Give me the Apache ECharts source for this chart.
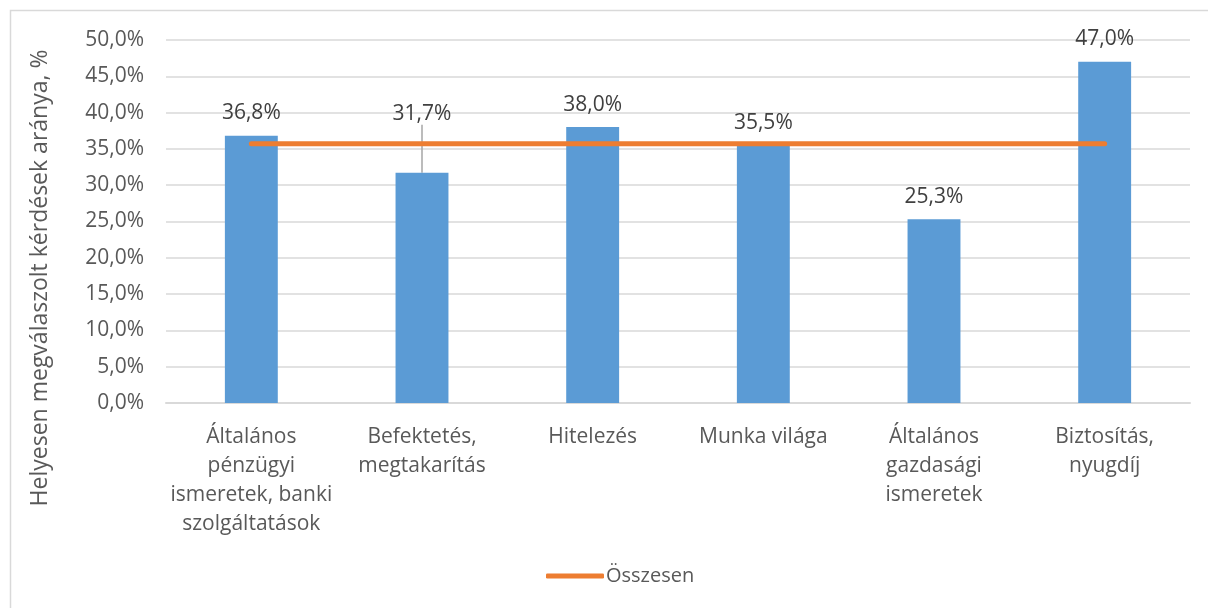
<!DOCTYPE html>
<html>
<head>
<meta charset="utf-8">
<script src="https://cdn.jsdelivr.net/npm/echarts@6/dist/echarts.min.js"></script>
<style>
  html, body { margin: 0; padding: 0; background: #fff; }
  #main { width: 1208px; height: 608px; }
</style>
</head>
<body>
<div id="main"></div>
<script>
// data
const categories = [
  "Általános\npénzügyi\nismeretek, banki\nszolgáltatások",
  "Befektetés,\nmegtakarítás",
  "Hitelezés",
  "Munka világa",
  "Általános\ngazdasági\nismeretek",
  "Biztosítás,\nnyugdíj",
];
const correctShare = [36.8, 31.7, 38.0, 35.5, 25.3, 47.0];
const totalShare = [35.7, 35.7, 35.7, 35.7, 35.7, 35.7];
const yTicks = { min: 0, max: 50, interval: 5 };

const fontFamily = "'Open Sans', sans-serif";
const pct = (v) => v.toFixed(1).replace(".", ",") + "%";

const chart = echarts.init(document.getElementById("main"));

const barData = correctShare.map((v, i) =>
  i === 1
    ? { value: v, labelLine: { show: true, lineStyle: { color: "#a6a6a6", width: 1.5 } } }
    : v
);

const option = {
  animation: false,
  textStyle: { fontFamily: fontFamily },
  grid: { left: 166, right: 18, top: 40, bottom: 205 },
  legend: {
    data: ["Összesen"],
    bottom: 17,
    left: 541,
    icon: "roundRect",
    itemWidth: 58,
    itemHeight: 5,
    itemGap: 4,
    textStyle: { fontFamily: fontFamily, fontSize: 20, color: "#595959", padding: [0, 0, 0, -3] },
  },
  graphic: [
    {
      type: "rect",
      shape: { x: 10.5, y: 10.5, width: 1300, height: 700 },
      style: { fill: "none", stroke: "#d9d9d9", lineWidth: 1.5 },
      silent: true,
    },
    {
      type: "text",
      x: 40,
      y: 278,
      rotation: Math.PI / 2,
      style: {
        text: "Helyesen megválaszolt kérdések aránya, %",
        font: "23px " + fontFamily,
        fill: "#595959",
        align: "center",
        verticalAlign: "middle",
      },
    },
  ],
  xAxis: {
    type: "category",
    data: categories,
    axisLine: { lineStyle: { color: "#d9d9d9", width: 2 } },
    axisTick: { show: false },
    axisLabel: {
      interval: 0,
      margin: 20,
      fontSize: 21,
      lineHeight: 29,
      color: "#595959",
      fontFamily: fontFamily,
    },
  },
  yAxis: {
    type: "value",
    min: yTicks.min,
    max: yTicks.max,
    interval: yTicks.interval,
    axisLine: { show: false },
    axisTick: { show: false },
    splitLine: { lineStyle: { color: "#d9d9d9", width: 1.5 } },
    axisLabel: {
      margin: 22,
      fontSize: 21,
      color: "#595959",
      fontFamily: fontFamily,
      formatter: (v) => pct(v),
    },
  },
  series: [
    {
      name: "Helyes",
      type: "bar",
      data: barData,
      barWidth: "31%",
      itemStyle: { color: "#5b9bd5" },
      label: {
        show: true,
        position: "top",
        distance: 12,
        fontSize: 21,
        color: "#404040",
        fontFamily: fontFamily,
        formatter: (p) => pct(p.value),
      },
      labelLine: { show: false },
      labelLayout: (params) => (params.dataIndex === 1 ? { dy: -36 } : {}),
    },
    {
      name: "Összesen",
      type: "line",
      data: totalShare,
      symbol: "none",
      z: 5,
      itemStyle: { color: "#ed7d31" },
      lineStyle: { color: "#ed7d31", width: 5, cap: "round" },
    },
  ],
};

chart.setOption(option);
</script>
</body>
</html>
